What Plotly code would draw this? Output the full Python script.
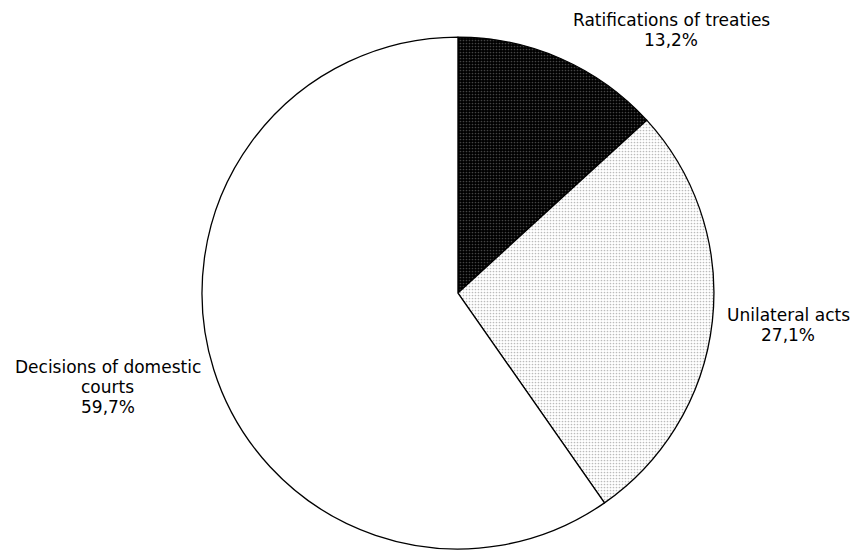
import plotly.graph_objects as go

# Share of acts by source
categories = ["Ratifications of treaties", "Unilateral acts", "Decisions of domestic courts"]
shares = [13.2, 27.1, 59.7]
share_text = ["13,2%", "27,1%", "59,7%"]
label_lines = [["Ratifications of treaties"], ["Unilateral acts"], ["Decisions of domestic", "courts"]]

fig = go.Figure(go.Pie(
    labels=categories,
    values=shares,
    sort=False,
    direction="clockwise",
    rotation=0,
    textinfo="none",
    hoverinfo="label+percent",
    marker=dict(
        colors=["#000000", "#ffffff", "#ffffff"],
        line=dict(color="#000000", width=1.3),
        pattern=dict(
            shape=[".", ".", ""],
            fgcolor=["#444444", "#bbbbbb", "#ffffff"],
            bgcolor=["#000000", "#ffffff", "#ffffff"],
            size=3,
            solidity=0.25,
        ),
    ),
    domain=dict(x=[0.236, 0.834], y=[0.0018, 0.9327]),
    showlegend=False,
))

# outside labels: centre x and first-line y (px), 20px line pitch
label_anchor = [(671, 20), (788, 315), (108, 367)]
for lines, pct, (px, py) in zip(label_lines, share_text, label_anchor):
    for i, line in enumerate(lines + [pct]):
        fig.add_annotation(
            x=px / 856, y=1 - (py + 20 * i) / 550, xref="paper", yref="paper",
            text=line, showarrow=False, xanchor="center", yanchor="middle",
            font=dict(family="DejaVu Sans", size=17, color="#000000"),
        )

fig.update_layout(
    width=856, height=550,
    margin=dict(l=0, r=0, t=0, b=0),
    paper_bgcolor="white", plot_bgcolor="white",
)
fig.write_html("out.html")
